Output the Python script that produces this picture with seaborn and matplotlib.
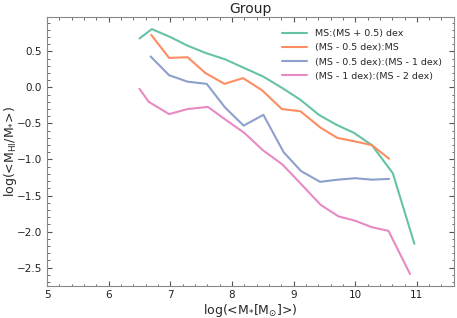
import numpy as np
import pandas as pd
import matplotlib
matplotlib.use('Agg')
import matplotlib.pyplot as plt
import seaborn as sns

# mean stellar mass per bin and mean gas fraction, one list pair per slice
x_ms_up = [6.50, 6.70, 7.00, 7.28, 7.57, 7.89, 8.20, 8.51, 8.82, 9.11, 9.41, 9.70, 9.98, 10.27, 10.61, 10.96]
y_ms_up = [0.68, 0.81, 0.70, 0.58, 0.48, 0.39, 0.27, 0.15, -0.01, -0.17, -0.38, -0.52, -0.63, -0.80, -1.19, -2.17]

x_ms_half = [6.69, 6.98, 7.28, 7.57, 7.88, 8.18, 8.49, 8.81, 9.11, 9.44, 9.71, 10.00, 10.27, 10.55]
y_ms_half = [0.73, 0.41, 0.42, 0.20, 0.05, 0.13, -0.04, -0.30, -0.33, -0.56, -0.70, -0.75, -0.80, -0.99]

x_half_one = [6.68, 6.98, 7.28, 7.59, 7.89, 8.19, 8.51, 8.84, 9.12, 9.43, 9.72, 10.00, 10.27, 10.55]
y_half_one = [0.43, 0.17, 0.08, 0.05, -0.28, -0.53, -0.38, -0.90, -1.16, -1.31, -1.28, -1.26, -1.28, -1.27]

x_one_two = [6.50, 6.65, 6.98, 7.28, 7.61, 7.90, 8.20, 8.50, 8.82, 9.11, 9.44, 9.73, 10.00, 10.27, 10.54, 10.89]
y_one_two = [-0.02, -0.20, -0.37, -0.30, -0.27, -0.45, -0.63, -0.87, -1.07, -1.33, -1.63, -1.79, -1.85, -1.94, -1.99, -2.59]

labels = ['MS:(MS + 0.5) dex', '(MS - 0.5 dex):MS',
          '(MS - 0.5 dex):(MS - 1 dex)', '(MS - 1 dex):(MS - 2 dex)']

frames = []
for xs, ys, lab in zip([x_ms_up, x_ms_half, x_half_one, x_one_two],
                       [y_ms_up, y_ms_half, y_half_one, y_one_two], labels):
    frames.append(pd.DataFrame({'mstar': xs, 'frac': ys, 'bin': lab}))
df = pd.concat(frames, ignore_index=True)

sns.set_style('ticks')
plt.rcParams['font.family'] = ['DejaVu Sans']

fig = plt.figure(figsize=(4.57, 3.18), dpi=100)
ax = fig.add_axes([0.103, 0.102, 0.890, 0.845])

sns.lineplot(data=df, x='mstar', y='frac', hue='bin', hue_order=labels,
             palette='Set2', sort=False, estimator=None, lw=1.5, ax=ax)

ax.set_xlim(5, 11.6)
ax.set_ylim(-2.75, 0.98)
ax.set_xticks([5, 6, 7, 8, 9, 10, 11])
ax.set_yticks([-2.5, -2.0, -1.5, -1.0, -0.5, 0.0, 0.5])
ax.minorticks_on()
ax.tick_params(which='both', direction='in', top=True, right=True, colors='#555555',
               labelcolor='#222222', labelsize=7.5)
ax.tick_params(which='major', length=3.5)
ax.tick_params(which='minor', length=1.8)
for s in ax.spines.values():
    s.set_color('#888888')

ax.set_title('Group', fontsize=10, pad=3)
ax.set_xlabel(r'log(<M$_{*}$[M$_{\odot}$]>)', fontsize=9, labelpad=1)
ax.set_ylabel(r'log(<M$_{\rm HI}$/M$_{*}$>)', fontsize=9)
ax.yaxis.set_label_coords(-0.068, 0.5)
ax.legend(frameon=False, fontsize=6.8, loc='upper right', handlelength=2.6,
          borderaxespad=1.0, labelspacing=0.55, borderpad=0.3)

fig.savefig('out.png', dpi=100)
